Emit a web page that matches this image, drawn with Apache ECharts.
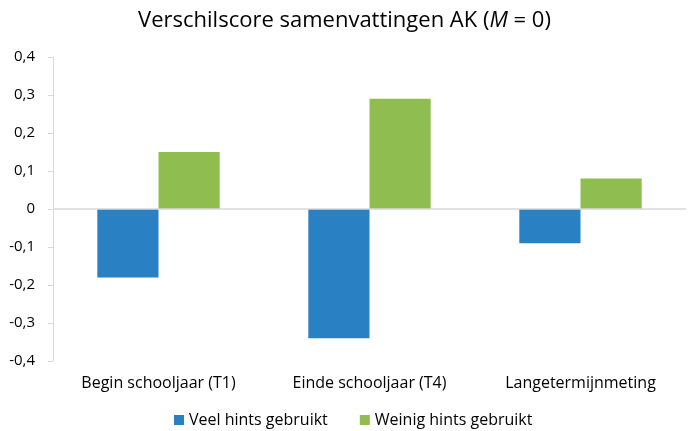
<!DOCTYPE html>
<html>
<head>
<meta charset="utf-8">
<script src="https://cdn.jsdelivr.net/npm/echarts@6/dist/echarts.min.js"></script>
<style>
  html, body { margin: 0; padding: 0; background: #fff; }
  #chart { width: 689px; height: 431px; }
</style>
</head>
<body>
<div id="chart"></div>
<script>
// Meetmomenten en verschilscores per groep
const categories = ['Begin schooljaar (T1)', 'Einde schooljaar (T4)', 'Langetermijnmeting'];
const veelHints = [-0.18, -0.34, -0.09];
const weinigHints = [0.15, 0.29, 0.08];
const seriesNames = ['Veel hints gebruikt', 'Weinig hints gebruikt'];

const FONT = '"Open Sans", Lato, sans-serif';
const chart = echarts.init(document.getElementById('chart'));

chart.setOption({
  animation: false,
  textStyle: { fontFamily: FONT },
  title: {
    text: 'Verschilscore samenvattingen AK ({i|M} = 0)',
    left: 'center',
    top: 5,
    textStyle: {
      fontFamily: FONT,
      fontSize: 22,
      fontWeight: 'normal',
      color: '#000',
      rich: {
        i: { fontFamily: FONT, fontSize: 22, fontStyle: 'italic', color: '#000' }
      }
    }
  },
  grid: { left: 53, right: 3, top: 57, bottom: 70 },
  legend: {
    top: 407,
    left: 169,
    icon: 'rect',
    itemWidth: 10,
    itemHeight: 10,
    itemGap: 32,
    textStyle: { fontFamily: FONT, fontSize: 16, color: '#000' },
    data: seriesNames
  },
  xAxis: {
    type: 'category',
    data: categories,
    axisLine: { show: false, onZero: false },
    axisTick: { show: false },
    axisLabel: { fontFamily: FONT, fontSize: 16, color: '#000', margin: 14 }
  },
  yAxis: {
    type: 'value',
    min: -0.4,
    max: 0.4,
    interval: 0.1,
    axisLine: { show: true, lineStyle: { color: '#d9d9d9' } },
    axisTick: { show: true, length: 5, lineStyle: { color: '#d9d9d9' } },
    splitLine: { show: false },
    axisLabel: {
      fontFamily: FONT,
      fontSize: 15,
      color: '#000',
      margin: 18,
      formatter: v => (Math.round(v * 10) / 10).toString().replace('.', ',')
    }
  },
  series: [
    {
      name: seriesNames[0],
      type: 'bar',
      data: veelHints,
      barGap: '0%',
      barCategoryGap: '42%',
      itemStyle: { color: '#2981C3' },
      markLine: {
        silent: true,
        symbol: 'none',
        label: { show: false },
        lineStyle: { color: '#d9d9d9', type: 'solid', width: 1.5 },
        data: [{ yAxis: 0 }]
      }
    },
    {
      name: seriesNames[1],
      type: 'bar',
      data: weinigHints,
      itemStyle: { color: '#8FBD50' }
    }
  ]
});
</script>
</body>
</html>
